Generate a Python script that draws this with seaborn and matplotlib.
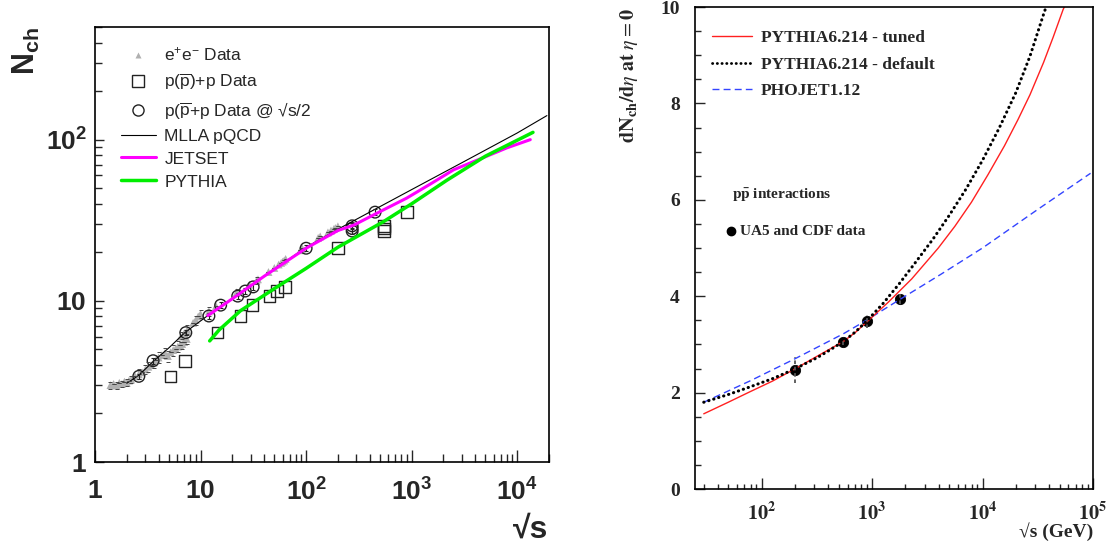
import numpy as np
import matplotlib
matplotlib.use("Agg")
import matplotlib.pyplot as plt
import matplotlib.transforms as mtransforms
import seaborn as sns
from matplotlib.lines import Line2D
from matplotlib.ticker import FixedLocator, NullFormatter, LogLocator, MultipleLocator

# ---------------- left panel data ----------------
ee_x = [1.40, 1.50, 1.60, 1.70, 1.80, 1.90, 2.00, 2.10, 2.20,
        2.40, 2.60, 2.80, 3.00,
        3.20, 3.40, 3.60, 3.80, 4.00, 4.30, 4.60,
        4.90, 5.20, 5.50, 5.80, 6.10, 6.40, 6.70, 7.00, 7.40,
        6.50, 7.00, 7.50,
        8.50, 9.00, 9.50, 10.0,
        12.0, 14.0, 22.0, 29.0, 34.0, 35.0, 44.0, 50.0, 55.0, 58.0, 60.0, 62.0, 64.0,
        88.0, 91.0, 92.0,
        130, 136, 161, 172, 183, 189, 200]
ee_y = [3.00, 3.05, 2.98, 3.10, 3.05, 3.15, 3.10, 3.20, 3.25,
        3.40, 3.50, 3.60, 3.75,
        3.90, 4.00, 4.15, 4.30, 4.45, 4.60, 4.75,
        4.55, 4.80, 4.95, 5.05, 5.20, 5.30, 5.40, 5.55, 5.80,
        6.00, 6.30, 6.60,
        7.30, 7.60, 8.00, 8.30,
        8.60, 9.30, 11.3, 12.6, 13.4, 13.6, 15.1, 16.0, 16.8, 17.2, 17.5, 17.8, 18.2,
        20.6, 21.0, 21.2,
        24.6, 25.1, 26.6, 27.3, 27.9, 28.3, 29.0]
ee_err = [0.15, 0, 0.15, 0, 0.15, 0, 0.15, 0, 0.15,
          0, 0.25, 0, 0.25,
          0.3, 0, 0.3, 0, 0.35, 0, 0.35,
          0.35, 0, 0.4, 0, 0.4, 0, 0.4, 0, 0.4,
          0.45, 0, 0.45,
          0, 0.5, 0, 0.5,
          0.5, 0, 0.6, 0, 0.6, 0, 0, 0, 0, 0, 0, 0, 0,
          0, 0, 0,
          0, 0, 0, 0, 0, 0, 0]

pp_x = [5.2, 7.1, 14.5, 24, 31, 45, 53, 63, 200, 546, 546, 546, 900]
pp_y = [3.4, 4.25, 6.35, 8.05, 9.4, 10.7, 11.5, 12.2, 21.2, 29.2, 28.1, 27.1, 35.5]
pph_x = [2.6, 3.55, 7.25, 12.0, 15.5, 22.5, 26.5, 31.5, 100, 273, 273, 273, 450]
pph_y = [3.4, 4.25, 6.35, 8.05, 9.4, 10.7, 11.5, 12.2, 21.2, 29.2, 28.1, 27.1, 35.5]

mlla_x = [2.0, 2.6, 3.55, 5.0, 7.1, 11.7, 20, 40, 100, 200, 450, 1000, 3000, 10000, 19100]
mlla_y = [3.08, 3.45, 4.2, 5.1, 6.35, 8.1, 10.3, 14.2, 21.5, 27.8, 37, 49, 72, 110, 141]
jetset_x = [11.7, 20, 40, 100, 200, 283, 450, 898, 1500, 2495, 5160, 8000, 13300]
jetset_y = [8.1, 10.3, 14.2, 21.2, 27.3, 29.5, 34.5, 43.4, 53, 65, 79, 89, 100]
pythia_x = [12.2, 15, 24, 50, 100, 200, 541, 1000, 2155, 5000, 14100]
pythia_y = [5.64, 6.6, 8.7, 11.9, 15.9, 21.5, 31, 40, 56, 79, 111]

left_xticks = [1, 10, 100, 1000, 10000]
left_xticklabels = [r'$\mathbf{1}$', r'$\mathbf{10}$', r'$\mathbf{10^{2}}$',
                    r'$\mathbf{10^{3}}$', r'$\mathbf{10^{4}}$']
left_yticks = [1, 10, 100]
left_yticklabels = [r'$\mathbf{1}$', r'$\mathbf{10}$', r'$\mathbf{10^{2}}$']
left_labels = [r'e$^{+}$e$^{-}$ Data', r'p($\overline{\mathrm{p}}$)+p Data',
               'p($\\overline{\\mathrm{p}}$+p Data @ \u221as/2',
               'MLLA pQCD', 'JETSET', 'PYTHIA']

# ---------------- right panel data ----------------
data_x = [200, 546, 900, 1800]
data_y = [2.47, 3.04, 3.48, 3.95]
data_err = [0.27, 0.05, 0.13, 0.12]
tuned_x = [30, 50, 79, 126, 200, 316, 550, 708, 891, 1410, 2290, 3980, 5620,
           7940, 11200, 15800, 20900, 26900, 35700, 43700, 53700, 55000]
tuned_y = [1.56, 1.80, 2.02, 2.24, 2.49, 2.75, 3.06, 3.25, 3.46, 3.88, 4.36, 5.00, 5.45,
           5.95, 6.52, 7.12, 7.66, 8.18, 8.85, 9.38, 9.95, 10.0]
default_x = [30, 50, 79, 126, 200, 316, 400, 550, 708, 891, 1260, 1780, 2510, 3550,
             5010, 7080, 10000, 14100, 20000, 26900, 35700, 37600]
default_y = [1.80, 1.96, 2.12, 2.29, 2.49, 2.72, 2.86, 3.06, 3.26, 3.48, 3.85, 4.27, 4.72,
             5.18, 5.68, 6.22, 6.82, 7.48, 8.22, 8.98, 9.85, 10.0]
phojet_x = [30, 80, 200, 550, 890, 1780, 4170, 10000, 31600, 95000]
phojet_y = [1.80, 2.25, 2.70, 3.22, 3.50, 3.93, 4.45, 5.0, 5.8, 6.55]

right_xticks = [100, 1000, 10000, 100000]
right_xticklabels = [r'$\mathbf{10^{2}}$', r'$\mathbf{10^{3}}$', r'$\mathbf{10^{4}}$', r'$\mathbf{10^{5}}$']
right_yticks = [0, 2, 4, 6, 8, 10]
right_yticklabels = ['0', '2', '4', '6', '8', '10']
right_labels = ['PYTHIA6.214 - tuned', 'PYTHIA6.214 - default', 'PHOJET1.12']

# ---------------- style ----------------
sns.set_style("ticks")
plt.rcParams.update({
    'font.family': ['Liberation Sans', 'DejaVu Sans'],
    'mathtext.fontset': 'custom',
    'mathtext.rm': 'Liberation Sans',
    'mathtext.it': 'Liberation Sans:italic',
    'mathtext.bf': 'Liberation Sans:bold',
    'mathtext.sf': 'Liberation Sans',
    'axes.linewidth': 1.2,
    'axes.edgecolor': 'black',
})
SERIF = ['Liberation Serif', 'DejaVu Serif']

W, H = 1117, 554
fig = plt.figure(figsize=(W / 100, H / 100), dpi=100)
axL = fig.add_axes([95 / W, (H - 462) / H, 454 / W, 435 / H])
axR = fig.add_axes([695 / W, (H - 489) / H, 398 / W, 482 / H])

# ---------------- left panel ----------------
axL.set_xscale('log')
axL.set_yscale('log')
axL.set_xlim(1, 2.0e4)
axL.set_ylim(1, 500)

sns.lineplot(x=mlla_x, y=mlla_y, ax=axL, color='black', lw=0.8, estimator=None, sort=False)
axL.errorbar(ee_x, ee_y, yerr=ee_err, fmt='none', ecolor='#444444', elinewidth=0,
             capsize=1.6, capthick=0.7)
sns.scatterplot(x=ee_x, y=ee_y, ax=axL, marker='^', s=32, color='#b0b0b0', edgecolor='none')
axL.errorbar(pph_x, pph_y, yerr=[v * 0.04 for v in pph_y], fmt='none', ecolor='#222222',
             elinewidth=0.8, capsize=1.6, capthick=0.8)
sns.scatterplot(x=pph_x, y=pph_y, ax=axL, marker='o', s=70, color='black')
c = axL.collections[-1]
c.set_facecolor('none'); c.set_edgecolor('#222222'); c.set_linewidth(1.0)
sns.scatterplot(x=pp_x, y=pp_y, ax=axL, marker='s', s=70, color='black')
c = axL.collections[-1]
c.set_facecolor('none'); c.set_edgecolor('#222222'); c.set_linewidth(1.0)
sns.lineplot(x=jetset_x, y=jetset_y, ax=axL, color='#ff00ff', lw=2.2, estimator=None, sort=False)
sns.lineplot(x=pythia_x, y=pythia_y, ax=axL, color='#00ee00', lw=2.5, estimator=None, sort=False)

axL.xaxis.set_major_locator(FixedLocator(left_xticks))
axL.xaxis.set_minor_locator(LogLocator(base=10, subs=np.arange(2, 10), numticks=30))
axL.xaxis.set_minor_formatter(NullFormatter())
axL.set_xticklabels(left_xticklabels, fontsize=19)
axL.yaxis.set_major_locator(FixedLocator(left_yticks))
axL.yaxis.set_minor_locator(LogLocator(base=10, subs=np.arange(2, 10), numticks=30))
axL.yaxis.set_minor_formatter(NullFormatter())
axL.set_yticklabels(left_yticklabels, fontsize=19)
axL.tick_params(axis='x', which='major', direction='in', length=9, width=1, pad=12)
axL.tick_params(axis='x', which='minor', direction='in', length=5.5, width=1)
axL.tick_params(axis='y', which='major', direction='in', length=6.5, width=1, pad=6)
axL.tick_params(axis='y', which='minor', direction='in', length=5, width=1)
axL.set_xlabel(''); axL.set_ylabel('')

handlesL = [
    Line2D([], [], ls='none', marker='^', ms=5, color='#b0b0b0', mec='none'),
    Line2D([], [], ls='none', marker='s', ms=8, mfc='none', mec='#222222'),
    Line2D([], [], ls='none', marker='o', ms=8, mfc='none', mec='#222222'),
    Line2D([], [], color='black', lw=0.8),
    Line2D([], [], color='#ff00ff', lw=2.2),
    Line2D([], [], color='#00ee00', lw=2.5),
]
axL.legend(handlesL, left_labels, loc='upper left', bbox_to_anchor=(0.057, 0.957),
           frameon=False, prop={'family': ['Liberation Sans', 'DejaVu Sans'], 'size': 12.5},
           handlelength=2.0, handletextpad=0.5, labelspacing=0.45,
           borderpad=0, borderaxespad=0, numpoints=1)

fig.text(26 / W, (H - 27) / H, r'$\mathbf{N_{ch}}$', rotation=90, ha='center', va='top',
         fontsize=22)
fig.text(548 / W, (H - 515) / H, '\u221as', ha='right', va='top', fontsize=23,
         fontweight='bold', family=['Liberation Sans', 'DejaVu Sans'])

# ---------------- right panel ----------------
axR.set_xscale('log')
axR.set_xlim(25, 1.0e5)
axR.set_ylim(0, 10)

sns.lineplot(x=phojet_x, y=phojet_y, ax=axR, color='#3344ff', lw=1.0, estimator=None, sort=False)
axR.lines[-1].set_linestyle((0, (5, 3)))
sns.lineplot(x=tuned_x, y=tuned_y, ax=axR, color='#ff2020', lw=1.0, estimator=None, sort=False)
sns.lineplot(x=default_x, y=default_y, ax=axR, color='black', lw=2.2, estimator=None, sort=False)
ln = axR.lines[-1]
ln.set_linestyle((0, (0.1, 1.6)))
ln.set_dash_capstyle('round')
eb = axR.errorbar(data_x, data_y, yerr=data_err, fmt='none', ecolor='#555555', elinewidth=1.3,
                  capsize=0)
eb[2][0].set_linestyle((0, (2, 1.5)))
sns.scatterplot(x=data_x, y=data_y, ax=axR, marker='o', s=55, color='black', edgecolor='black')

axR.xaxis.set_major_locator(FixedLocator(right_xticks))
axR.xaxis.set_minor_locator(LogLocator(base=10, subs=np.arange(2, 10), numticks=30))
axR.xaxis.set_minor_formatter(NullFormatter())
axR.set_xticklabels(right_xticklabels, fontsize=14.5)
offset = mtransforms.ScaledTranslation(4 / 100, 0, fig.dpi_scale_trans)
for t in axR.get_xticklabels():
    t.set_math_fontfamily('stix')
    t.set_transform(t.get_transform() + offset)
axR.yaxis.set_major_locator(FixedLocator(right_yticks))
axR.yaxis.set_minor_locator(MultipleLocator(0.5))
axR.set_yticklabels(right_yticklabels, fontsize=14, fontweight='bold', family=SERIF)
axR.tick_params(axis='x', which='major', direction='in', length=8, width=1, pad=9)
axR.tick_params(axis='x', which='minor', direction='in', length=3.5, width=1)
axR.tick_params(axis='y', which='major', direction='in', length=7, width=1, pad=11)
axR.tick_params(axis='y', which='minor', direction='in', length=4.5, width=1)
axR.set_xlabel(''); axR.set_ylabel('')

handlesR = [
    Line2D([], [], color='#ff2020', lw=1.0),
    Line2D([], [], color='black', lw=2.0, ls=(0, (0.1, 1.6)), dash_capstyle='round'),
    Line2D([], [], color='#3344ff', lw=1.0, ls=(0, (5, 3))),
]
axR.legend(handlesR, right_labels, loc='upper left', bbox_to_anchor=(0.043, 0.952),
           frameon=False, prop={'family': SERIF, 'weight': 'bold', 'size': 12.5},
           handlelength=2.3, handletextpad=0.52, labelspacing=0.6,
           borderpad=0, borderaxespad=0)

axR.text(0.093, 0.611, r'$\mathbf{p\bar{p}}$ interactions', transform=axR.transAxes,
         ha='left', va='center', fontsize=11, fontweight='bold', family=SERIF,
         math_fontfamily='stix')
axR.plot([0.0915], [0.535], marker='o', ms=6, color='black', transform=axR.transAxes,
         clip_on=False)
axR.text(0.112, 0.535, 'UA5 and CDF data', transform=axR.transAxes, ha='left', va='center',
         fontsize=11, fontweight='bold', family=SERIF)

fig.text(629 / W, (H - 8) / H, r'$\mathbf{dN_{ch}/d}\eta\ \mathbf{at}\ \eta{=}\mathbf{0}$',
         rotation=90, ha='center', va='top', fontsize=14.5, math_fontfamily='stix')
fig.text(1093 / W, (H - 522) / H, '\u221as (GeV)', ha='right', va='top',
         fontsize=14, fontweight='bold', family=SERIF)

fig.savefig('out.png', dpi=100)
